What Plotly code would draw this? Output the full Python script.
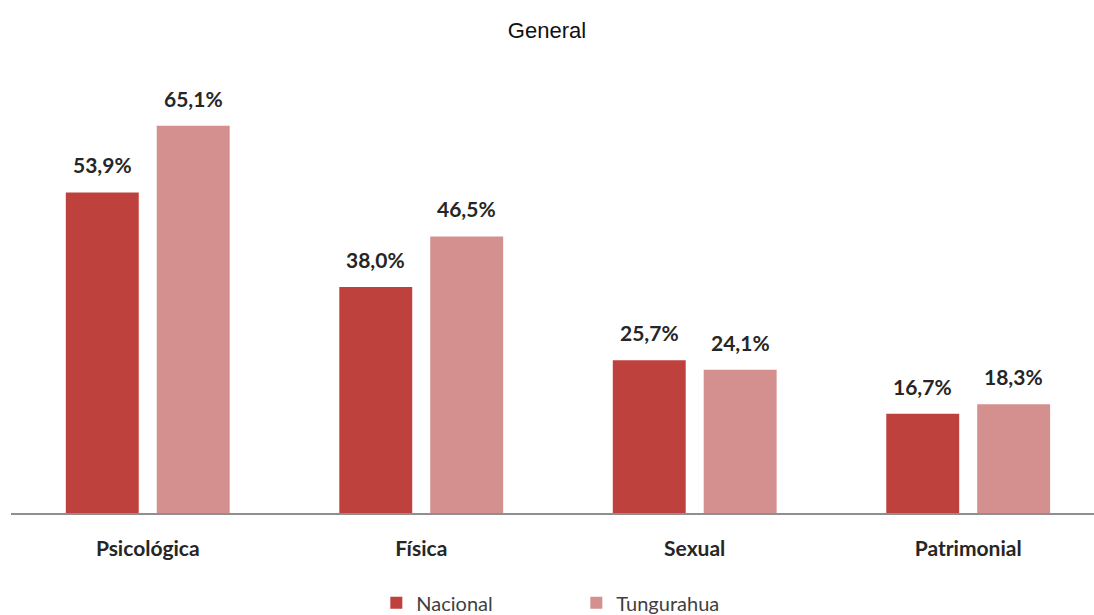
import plotly.graph_objects as go

# Share of women reporting each type of violence
categories = ["Psicológica", "Física", "Sexual", "Patrimonial"]
nacional = [53.9, 38.0, 25.7, 16.7]
tungurahua = [65.1, 46.5, 24.1, 18.3]
series_names = ["Nacional", "Tungurahua"]
colors = ["#BF413D", "#D4908E"]

def fmt(v):
    return f"{v:.1f}%".replace(".", ",")

fig = go.Figure()
for name, vals, col in zip(series_names, [nacional, tungurahua], colors):
    fig.add_trace(go.Bar(
        x=categories, y=vals, name=name,
        marker=dict(color=col, line=dict(width=0)),
        hoverinfo="skip",
    ))

# value labels above each bar (centred on the grouped bar positions)
bargap = 0.335
slot = (1 - bargap) / 2
annotations = []
for k, vals in enumerate([nacional, tungurahua]):
    shift = -slot / 2 if k == 0 else slot / 2
    for i, v in enumerate(vals):
        annotations.append(dict(
            x=i + shift, y=v, xref="x", yref="y",
            text=fmt(v), showarrow=False,
            yanchor="bottom", yshift=13,
            font=dict(family="Lato", size=21, color="#262626", weight="bold"),
        ))

fig.update_layout(
    width=1094, height=615,
    margin=dict(l=11, r=0, t=67, b=102),
    paper_bgcolor="white", plot_bgcolor="white",
    barmode="group", bargap=bargap, bargroupgap=0.198,
    title=dict(text="General", x=0.5, xanchor="center",
               y=0.951, yanchor="middle",
               font=dict(family="Liberation Sans", size=22, color="#111111")),
    xaxis=dict(
        range=[-0.5, 3.46], showgrid=False, zeroline=False,
        showline=True, linecolor="#8F8F8F", linewidth=2,
        ticks="", ticklabelstandoff=16,
        tickfont=dict(family="Lato", size=21, color="#262626", weight="bold"),
    ),
    yaxis=dict(range=[0, 75], visible=False, showgrid=False, zeroline=False),
    legend=dict(
        orientation="h", x=0.522, xanchor="center",
        yref="container", y=0.02, yanchor="middle",
        entrywidth=155, entrywidthmode="pixels",
        font=dict(family="Lato", size=20, color="#404040"),
    ),
    annotations=annotations,
)

fig.write_html("out.html")
